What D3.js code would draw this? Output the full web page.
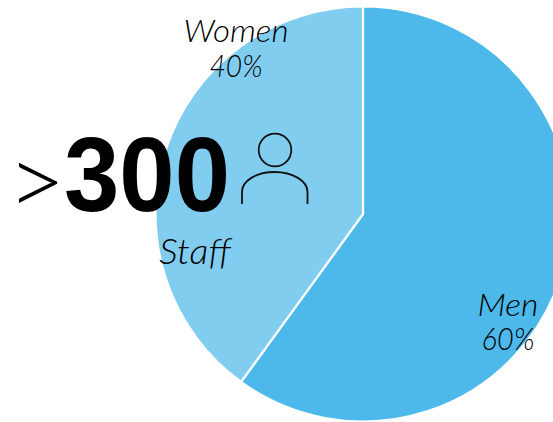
<!DOCTYPE html>
<html><head><meta charset="utf-8">
<script src="https://cdn.jsdelivr.net/npm/d3@7"></script>
<style>html,body{margin:0;background:#fff}svg{display:block}text{font-family:Lato,"Open Sans",sans-serif;font-style:italic;font-weight:300;fill:#000}</style>
</head><body><svg id="c" width="553" height="422"></svg>
<script>
const categories=["Men","Women"];
const values=[60,40];
const colors=["#4db8ea","#80cdf0"];
const W=553,H=422,cx=363,cy=214,r=207.5;
const svg=d3.select("#c");
const g=svg.append("g").attr("transform",`translate(${cx},${cy})`);
const pie=d3.pie().sort(null).value(d=>d.v);
const arc=d3.arc().innerRadius(0).outerRadius(r);
const color=d3.scaleOrdinal().domain(categories).range(colors);
g.selectAll("path").data(pie(categories.map((c,i)=>({c,v:values[i]})))).join("path")
 .attr("d",arc).attr("fill",d=>color(d.data.c)).attr("stroke","#fff").attr("stroke-width",2.2).attr("stroke-linejoin","round");
function label(x,y,t,s,w){svg.append("text").attr("x",x).attr("y",y).attr("text-anchor","middle").attr("font-size",s).attr("textLength",w).attr("lengthAdjust","spacingAndGlyphs").text(t);}
label(236,42,"Women",31,105);label(236,77,"40%",31,53);
label(508,316,"Men",31,61);label(508,350,"60%",31,53);
label(195,264,"Staff",35,72);
svg.append("text").attr("x",7).attr("y",216).attr("font-size",99).attr("textLength",59).attr("lengthAdjust","spacingAndGlyphs").style("font-style","normal").text(">");
svg.append("text").attr("x",64).attr("y",211).attr("font-size",105).attr("textLength",166).attr("lengthAdjust","spacingAndGlyphs").style("font-style","normal").style("font-family","'Liberation Sans'").style("font-weight",700).text("300");
const ic=svg.append("g").attr("fill","none").attr("stroke","#111").attr("stroke-width",1.8);
ic.append("circle").attr("cx",275).attr("cy",150).attr("r",16.3);
ic.append("path").attr("d","M242 204V192C242 181 256 172 274.5 172S307.5 181 307.5 192V204");
</script></body></html>
